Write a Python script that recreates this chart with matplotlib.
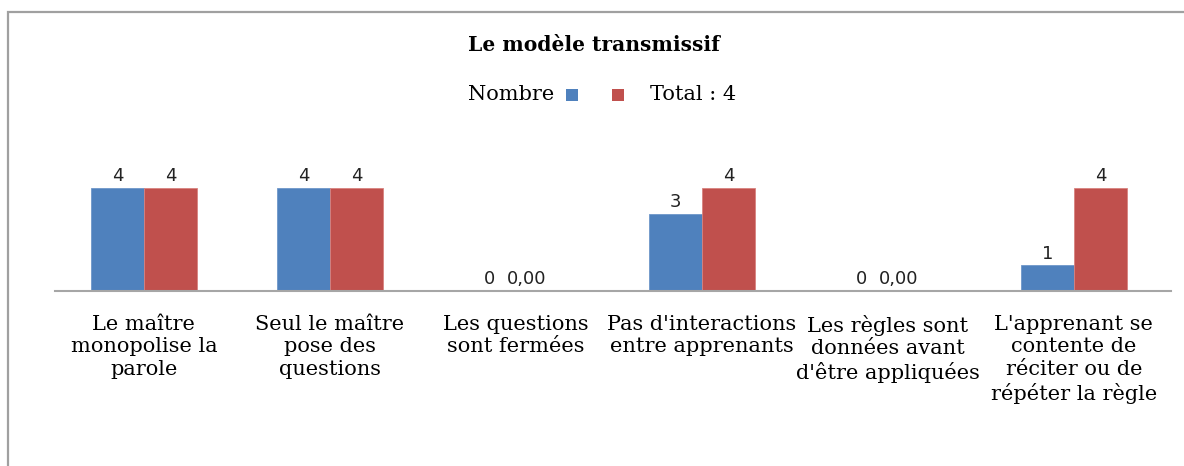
import numpy as np
import matplotlib
matplotlib.use("Agg")
import matplotlib.pyplot as plt
from matplotlib.patches import Rectangle

# données
categories = ["Le maître\nmonopolise la\nparole",
              "Seul le maître\npose des\nquestions",
              "Les questions\nsont fermées",
              "Pas d'interactions\nentre apprenants",
              "Les règles sont\ndonnées avant\nd'être appliquées",
              "L'apprenant se\ncontente de\nréciter ou de\nrépéter la règle"]
nombre = [4, 4, 0, 3, 0, 1]
total = [4, 4, 0, 4, 0, 4]
nombre_labels = ["4", "4", "0", "3", "0", "1"]
total_labels = ["4", "4", "0,00", "4", "0,00", "4"]

blue = "#4F81BD"
red = "#C0504D"
serif = ["DejaVu Serif"]
sans = ["DejaVu Sans"]

W, H = 1184, 466
fig = plt.figure(figsize=(W / 100, H / 100), dpi=100)
ax = fig.add_axes([55 / W, 1 - 291 / H, (1171 - 55) / W, (291 - 162) / H])

x = np.arange(len(categories))
w = 0.285
ax.bar(x - w / 2, nombre, w, color=blue, edgecolor="#6f97c9", linewidth=0.6)
ax.bar(x + w / 2, total, w, color=red, edgecolor="#d9837f", linewidth=0.6)

for i in range(len(categories)):
    ax.text(x[i] - w / 2, nombre[i] + 0.1, nombre_labels[i], ha="center", va="bottom",
            fontsize=13, family=sans, color="#222222")
    ax.text(x[i] + w / 2 - (0.085 if total[i] == 0 else 0), total[i] + 0.1, total_labels[i],
            ha="center", va="bottom", fontsize=13, family=sans, color="#222222")

ax.set_xlim(-0.478, len(categories) - 0.478)
ax.set_ylim(0, 5)
ax.set_yticks([])
ax.set_xticks(x)
ax.set_xticklabels(categories, family=serif, fontsize=15, linespacing=1.24)
ax.tick_params(axis="x", length=0, pad=17)
for s in ["top", "left", "right"]:
    ax.spines[s].set_visible(False)
ax.spines["bottom"].set_color("#a6a6a6")
ax.spines["bottom"].set_linewidth(1.5)

# titre et légende
fig.text(594 / W, 1 - 45 / H, "Le modèle transmissif", ha="center", va="center",
         fontsize=14.6, fontweight="bold", family=serif)
fig.text(468 / W, 1 - 94 / H, "Nombre", ha="left", va="center", fontsize=15, family=serif)
fig.add_artist(Rectangle((566 / W, 1 - 101 / H), 12 / W, 12 / H, transform=fig.transFigure,
                         facecolor=blue, edgecolor="none"))
fig.add_artist(Rectangle((612 / W, 1 - 101 / H), 12 / W, 12 / H, transform=fig.transFigure,
                         facecolor=red, edgecolor="none"))
fig.text(650 / W, 1 - 94 / H, "Total : 4", ha="left", va="center", fontsize=15, family=serif)

# cadre
fig.add_artist(Rectangle((8 / W, -0.1), 1.2, 1 - 11.5 / H + 0.1, transform=fig.transFigure,
                         facecolor="none", edgecolor="#a0a0a0", linewidth=1.6))

fig.savefig("out.png", dpi=100)
